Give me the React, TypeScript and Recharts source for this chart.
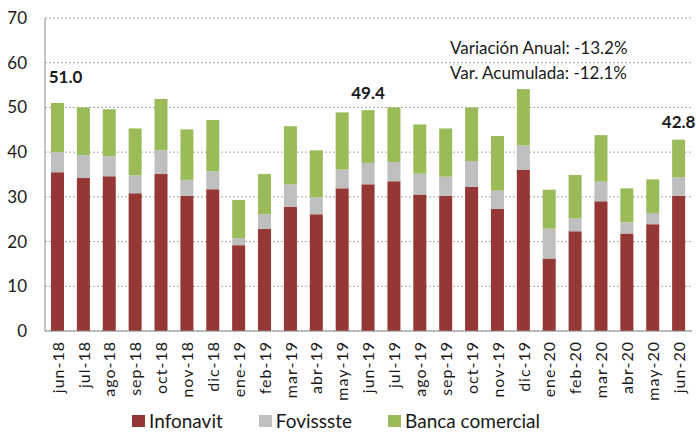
import { BarChart, Bar, XAxis, YAxis, CartesianGrid, Legend, LabelList } from "recharts"

const months = [
  "jun-18", "jul-18", "ago-18", "sep-18", "oct-18", "nov-18", "dic-18",
  "ene-19", "feb-19", "mar-19", "abr-19", "may-19", "jun-19", "jul-19",
  "ago-19", "sep-19", "oct-19", "nov-19", "dic-19", "ene-20", "feb-20",
  "mar-20", "abr-20", "may-20", "jun-20",
]
const infonavit = [
  35.5, 34.2, 34.6, 30.8, 35.1, 30.2, 31.7, 19.2, 22.8, 27.8, 26.1, 31.9, 32.8,
  33.5, 30.5, 30.2, 32.2, 27.3, 36.0, 16.2, 22.3, 29.0, 21.8, 23.9, 30.2,
]
const fovissste = [
  4.5, 5.1, 4.5, 4.0, 5.3, 3.6, 4.0, 1.6, 3.3, 5.0, 3.8, 4.2, 4.8,
  4.3, 4.7, 4.3, 5.8, 4.1, 5.5, 6.7, 2.9, 4.4, 2.5, 2.5, 4.2,
]
const banca = [
  11.0, 10.7, 10.5, 10.5, 11.5, 11.3, 11.5, 8.5, 9.0, 13.0, 10.5, 12.8, 11.8,
  12.2, 11.0, 10.8, 12.0, 12.2, 12.6, 8.7, 9.7, 10.4, 7.6, 7.5, 8.4,
]
const labelledMonths = ["jun-18", "jun-19", "jun-20"]
const yTicks = [0, 10, 20, 30, 40, 50, 60, 70]
const notes = ["Variación Anual: -13.2%", "Var. Acumulada: -12.1%"]

const colors = { infonavit: "#953735", fovissste: "#bfbfbf", banca: "#9bbb59" }
const legendItems = [
  { name: "Infonavit", color: colors.infonavit },
  { name: "Fovissste", color: colors.fovissste },
  { name: "Banca comercial", color: colors.banca },
]

const FONT = "Lato, 'Noto Sans', sans-serif"

const chartData = months.map((month, i) => ({
  month,
  infonavit: infonavit[i],
  fovissste: fovissste[i],
  banca: banca[i],
  total: Math.round((infonavit[i] + fovissste[i] + banca[i]) * 10) / 10,
}))

function MonthTick(props: any) {
  const { x, y, payload } = props
  return (
    <text
      x={x}
      y={y}
      transform={`rotate(-90, ${x}, ${y})`}
      textAnchor="end"
      dy="0.36em"
      fontSize={16}
      letterSpacing={1}
      fontFamily={FONT}
      fill="#1a1a1a"
    >
      {payload.value}
    </text>
  )
}

function TotalLabel(props: any) {
  const { x, y, width, value, index } = props
  if (index == null || !labelledMonths.includes(months[index])) return null
  const lift = index === 0 ? 26 : 18
  return (
    <text
      x={Number(x) + Number(width) / 2 + (index === 0 ? 8 : 0)}
      y={Number(y) - lift}
      textAnchor="middle"
      dominantBaseline="central"
      fontSize={17}
      fontWeight="bold"
      fontFamily={FONT}
      fill="#1a1a1a"
    >
      {Number(value).toFixed(1)}
    </text>
  )
}

function LegendRow() {
  return (
    <div
      style={{
        display: "flex",
        alignItems: "flex-end",
        height: 30,
        paddingLeft: 132,
        paddingBottom: 4,
        boxSizing: "border-box",
        fontFamily: FONT,
        fontSize: 19,
        lineHeight: "23px",
        color: "#1a1a1a",
      }}
    >
      {legendItems.map((s) => (
        <div key={s.name} style={{ display: "flex", alignItems: "center", marginRight: 36 }}>
          <span
            style={{ width: 13, height: 12, background: s.color, display: "inline-block", marginRight: 4, marginTop: 1 }}
          />
          <span>{s.name}</span>
        </div>
      ))}
    </div>
  )
}

export default function App() {
  return (
    <div style={{ position: "absolute", left: 0, top: 0, width: 696, height: 436, background: "#fff" }}>
      <BarChart
        width={696}
        height={436}
        data={chartData}
        margin={{ top: 18, right: 4, bottom: 0, left: 0 }}
        barSize={13}
      >
        <CartesianGrid vertical={false} stroke="#a6a6a6" strokeDasharray="2 2" />
        <XAxis
          dataKey="month"
          interval={0}
          height={75}
          tickLine={false}
          tickSize={0}
          tickMargin={10}
          axisLine={{ stroke: "#8c8c8c" }}
          tick={MonthTick}
        />
        <YAxis
          width={45}
          type="number"
          domain={[0, 70]}
          ticks={yTicks}
          tickLine={false}
          axisLine={{ stroke: "#8c8c8c" }}
          tick={{ fontSize: 17, fill: "#1a1a1a", fontFamily: FONT }}
          tickMargin={12}
        />
        <Legend verticalAlign="bottom" height={30} content={LegendRow} />
        <Bar dataKey="infonavit" name="Infonavit" stackId="a" fill={colors.infonavit} isAnimationActive={false} />
        <Bar dataKey="fovissste" name="Fovissste" stackId="a" fill={colors.fovissste} isAnimationActive={false} />
        <Bar dataKey="banca" name="Banca comercial" stackId="a" fill={colors.banca} isAnimationActive={false}>
          <LabelList dataKey="total" content={TotalLabel} />
        </Bar>
      </BarChart>
      <div
        style={{
          position: "absolute",
          left: 450,
          top: 35,
          fontFamily: FONT,
          fontSize: 17,
          lineHeight: "25px",
          color: "#1a1a1a",
        }}
      >
        {notes.map((n) => (
          <div key={n}>{n}</div>
        ))}
      </div>
    </div>
  )
}
